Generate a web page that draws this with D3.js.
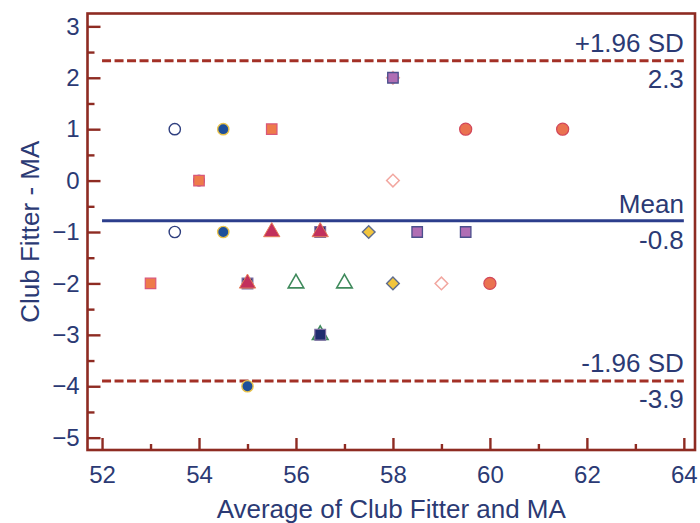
<!DOCTYPE html>
<html>
<head>
<meta charset="utf-8">
<script src="https://cdn.jsdelivr.net/npm/d3@7"></script>
<style>
  html, body { margin: 0; padding: 0; background: #fff; }
  svg { display: block; font-family: "Liberation Sans", Arial, sans-serif; }
</style>
</head>
<body>
<svg id="chart" width="700" height="523"></svg>
<script>
// ---- data ----
const xTicks = [52, 54, 56, 58, 60, 62, 64];
const xMinorTicks = [53, 55, 57, 59, 61, 63];
const yTicks = [3, 2, 1, 0, -1, -2, -3, -4, -5];
const yMinorTicks = [2.5, 1.5, 0.5, -0.5, -1.5, -2.5, -3.5, -4.5];

const meanDiff = -0.78;
const upperLoA = 2.33;
const lowerLoA = -3.90;
const lineLabels = ["+1.96 SD", "Mean", "-1.96 SD"];
const lineValues = ["2.3", "-0.8", "-3.9"];

// points per subject marker [average, difference]
const openPinkDiamond = [[58, 0], [59, -2], [58, 2]];
const openGreenTriangle = [[56, -2], [57, -2], [56.5, -3]];
const darkCircle = [[54, 0]];
const navySquare = [[56.5, -1], [55, -2], [56.5, -3]];
const crimsonTriangle = [[55.5, -1], [56.5, -1], [55, -2]];
const openNavyCircle = [[53.5, 1], [53.5, -1]];
const navyCircle = [[54.5, 1], [54.5, -1], [55, -4]];
const orangeSquare = [[55.5, 1], [54, 0], [53, -2]];
const coralCircle = [[59.5, 1], [61.5, 1], [60, -2]];
const purpleSquare = [[58, 2], [58.5, -1], [59.5, -1]];
const yellowDiamond = [[57.5, -1], [58, -2]];

const series = [
  {data: openPinkDiamond, sym: d3.symbolSquare, size: 80, rot: 45, fill: "none", stroke: "#F2A7A0", sw: 1.5},
  {data: openGreenTriangle, sym: d3.symbolTriangle, size: 105, rot: 0, fill: "none", stroke: "#3F8A5C", sw: 1.6},
  {data: darkCircle, sym: d3.symbolCircle, size: 95, rot: 0, fill: "#3A3A80", stroke: "#6A4A8A", sw: 1},
  {data: navySquare, sym: d3.symbolSquare, size: 115, rot: 0, fill: "#1F2C6E", stroke: "#7A6AA0", sw: 1.2},
  {data: crimsonTriangle, sym: d3.symbolTriangle, size: 115, rot: 0, fill: "#C2305C", stroke: "#E8805A", sw: 1},
  {data: openNavyCircle, sym: d3.symbolCircle, size: 100, rot: 0, fill: "none", stroke: "#2F3F7F", sw: 1.4},
  {data: navyCircle, sym: d3.symbolCircle, size: 100, rot: 0, fill: "#1E4F9A", stroke: "#E9C24A", sw: 1.4},
  {data: orangeSquare, sym: d3.symbolSquare, size: 110, rot: 0, fill: "#EE7B4A", stroke: "#D9577A", sw: 1.2},
  {data: coralCircle, sym: d3.symbolCircle, size: 115, rot: 0, fill: "#EA7250", stroke: "#D2465A", sw: 1.2},
  {data: purpleSquare, sym: d3.symbolSquare, size: 110, rot: 0, fill: "#B06EB4", stroke: "#4B4F8C", sw: 1.3},
  {data: yellowDiamond, sym: d3.symbolSquare, size: 80, rot: 45, fill: "#F2C53D", stroke: "#5E6C8E", sw: 1.4}
];

// ---- layout ----
const frameColor = "#8E2B22";
const textColor = "#2B3A74";
const svg = d3.select("#chart");
const frame = {left: 87.5, right: 695, top: 13.5, bottom: 450};

const x = d3.scaleLinear().domain([51.7, 64.23]).range([frame.left, frame.right]);
const y = d3.scaleLinear().domain([-5.24, 3.25]).range([frame.bottom, frame.top]);

// frame
svg.append("rect")
  .attr("x", frame.left).attr("y", frame.top)
  .attr("width", frame.right - frame.left).attr("height", frame.bottom - frame.top)
  .attr("fill", "none").attr("stroke", frameColor).attr("stroke-width", 2.6);

// axes
const yAxis = d3.axisLeft(y).tickValues(yTicks).tickFormat(d3.format("d"))
  .tickSizeInner(-13).tickSizeOuter(0).tickPadding(8);
const yMinor = d3.axisLeft(y).tickValues(yMinorTicks).tickFormat("")
  .tickSizeInner(-7).tickSizeOuter(0);
const xAxis = d3.axisBottom(x).tickValues(xTicks).tickFormat(d3.format("d"))
  .tickSizeInner(-12).tickSizeOuter(0).tickPadding(16);
const xMinor = d3.axisBottom(x).tickValues(xMinorTicks).tickFormat("")
  .tickSizeInner(-6).tickSizeOuter(0);

function styleAxis(g) {
  g.select(".domain").remove();
  g.selectAll(".tick line").attr("stroke", frameColor).attr("stroke-width", 2.4);
  g.selectAll(".tick text").attr("fill", textColor).attr("font-size", 24)
    .attr("font-family", "Liberation Sans, Arial, sans-serif");
}
svg.append("g").attr("transform", `translate(${frame.left},0)`).call(yAxis).call(styleAxis);
svg.append("g").attr("transform", `translate(${frame.left},0)`).call(yMinor).call(styleAxis);
svg.append("g").attr("transform", `translate(0,${frame.bottom})`).call(xAxis).call(styleAxis);
svg.append("g").attr("transform", `translate(0,${frame.bottom})`).call(xMinor).call(styleAxis);

// reference lines
const refLines = [
  {v: upperLoA, dash: "9,3.5", color: "#A33026", above: 9, below: 27},
  {v: meanDiff, dash: null, color: "#2C3E8C", above: 8, below: 28},
  {v: lowerLoA, dash: "9,3.5", color: "#A33026", above: 9, below: 27}
];
refLines.forEach((r, i) => {
  const ln = svg.append("line")
    .attr("x1", x(52)).attr("x2", x(64))
    .attr("y1", y(r.v)).attr("y2", y(r.v))
    .attr("stroke", r.color).attr("stroke-width", 3);
  if (r.dash) ln.attr("stroke-dasharray", r.dash);
  svg.append("text").attr("x", x(64)).attr("y", y(r.v) - r.above)
    .attr("text-anchor", "end").attr("fill", textColor).attr("font-size", 26)
    .text(lineLabels[i]);
  svg.append("text").attr("x", x(64)).attr("y", y(r.v) + r.below)
    .attr("text-anchor", "end").attr("fill", textColor).attr("font-size", 26)
    .text(lineValues[i]);
});

// points
series.forEach(s => {
  const sym = d3.symbol().type(s.sym).size(s.size);
  svg.append("g").selectAll("path").data(s.data).enter().append("path")
    .attr("d", sym)
    .attr("transform", d => `translate(${x(d[0])},${y(d[1])}) rotate(${s.rot})`)
    .attr("fill", s.fill).attr("stroke", s.stroke).attr("stroke-width", s.sw);
});

// titles
svg.append("text")
  .attr("transform", `translate(39,${(frame.top + frame.bottom) / 2}) rotate(-90)`)
  .attr("text-anchor", "middle").attr("fill", textColor).attr("font-size", 26)
  .text("Club Fitter - MA");
svg.append("text")
  .attr("x", (frame.left + frame.right) / 2).attr("y", 518)
  .attr("text-anchor", "middle").attr("fill", textColor).attr("font-size", 26)
  .text("Average of Club Fitter and MA");
</script>
</body>
</html>
